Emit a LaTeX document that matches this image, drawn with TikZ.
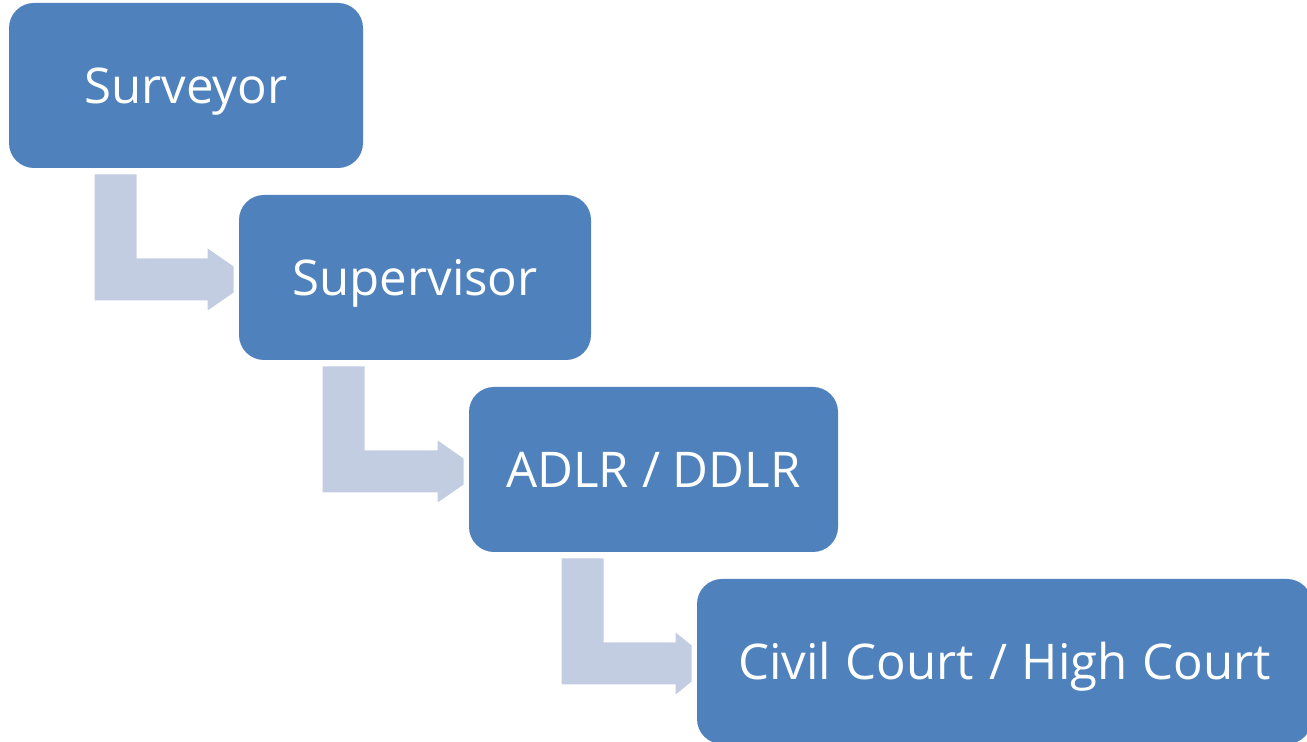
\documentclass[tikz,border=0pt]{standalone}
\usepackage{fontspec}
\setmainfont{Open Sans}
\usetikzlibrary{calc}

\definecolor{stageblue}{HTML}{4F81BD}
\definecolor{flowgrey}{HTML}{C3CDE2}

\tikzset{
  stage/.style={fill=stageblue,text=white,rounded corners=0.5cm,
    minimum height=3.3cm,inner sep=0pt,text height=20pt,text depth=0pt,
    font=\fontsize{28}{34}\selectfont},
  flow/.style={fill=flowgrey}
}

\begin{document}
\begin{tikzpicture}

\useasboundingbox (0,0) rectangle (26.14,14.84);

%stages
\node[stage,minimum width=7.08cm] (surveyor) at (3.72,13.13) {Surveyor};
\node[stage,minimum width=7.04cm] (supervisor) at (8.30,9.29) {Supervisor};
\node[stage,minimum width=7.38cm] (adlr) at (13.07,5.45) {ADLR / DDLR};
\node[stage,minimum width=12.3cm] (court) at (20.09,1.61) {\spaceskip=0.3em Civil Court / High Court};

%bent arrows
\foreach \a/\b/\d/\h/\t in {surveyor/supervisor/1.72/0.62/0.26,
    supervisor/adlr/1.68/0.62/0.26, adlr/court/1.86/0.42/0.36}{
  \path[flow] let \p1=(\a.south west), \p2=(\b.west) in
    (\x1+\d cm,\y1-0.12cm) -- (\x1+\d cm+0.84cm,\y1-0.12cm)
    -- (\x1+\d cm+0.84cm,\y2+0.38cm) -- (\x2-\h cm,\y2+0.38cm)
    -- (\x2-\h cm,\y2+0.58cm) -- (\x2-0.1cm,\y2-0.04cm+\t cm)
    -- (\x2-0.1cm,\y2-0.04cm-\t cm) -- (\x2-\h cm,\y2-0.66cm)
    -- (\x2-\h cm,\y2-0.46cm) -- (\x1+\d cm,\y2-0.46cm) -- cycle;
}

\end{tikzpicture}
\end{document}
